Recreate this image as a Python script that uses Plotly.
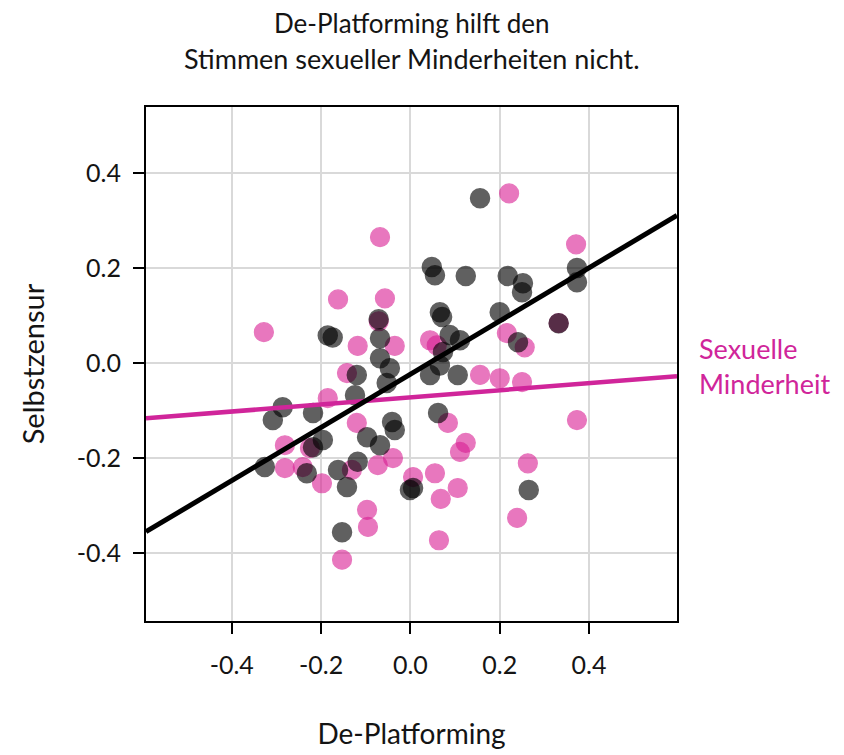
import plotly.graph_objects as go

# ---- data ----
black_x = [0.156, 0.048, 0.055, 0.124, 0.218, 0.252, 0.250, 0.373, 0.373, 0.066,
           0.071, 0.200, 0.332, 0.241, 0.088, 0.111, 0.073, 0.106, 0.044, 0.062,
           0.265, 0.006, -0.071, -0.068, -0.174, -0.185, -0.068, -0.046, -0.053, -0.120,
           -0.124, -0.218, -0.286, -0.308, -0.326, -0.218, -0.232, -0.196, -0.162, -0.142,
           -0.118, -0.097, -0.068, -0.041, -0.035, -0.001, -0.153, 0.066]
black_y = [0.347, 0.202, 0.185, 0.183, 0.183, 0.168, 0.149, 0.200, 0.170, 0.107,
           0.097, 0.107, 0.084, 0.044, 0.059, 0.048, 0.023, -0.025, -0.025, -0.105,
           -0.267, -0.263, 0.092, 0.052, 0.054, 0.058, 0.010, -0.011, -0.042, -0.025,
           -0.068, -0.105, -0.093, -0.120, -0.219, -0.177, -0.232, -0.162, -0.225, -0.261,
           -0.208, -0.156, -0.173, -0.124, -0.141, -0.267, -0.356, -0.005]

pink_x = [-0.328, -0.162, -0.068, -0.057, -0.118, -0.035, 0.221, 0.371, 0.216, 0.256,
          0.044, 0.156, 0.200, 0.250, 0.084, 0.124, 0.111, 0.373, 0.263, 0.055,
          0.106, 0.068, 0.239, 0.064, 0.006, -0.142, -0.185, -0.120, -0.039, -0.073,
          -0.198, -0.281, -0.281, -0.241, -0.097, -0.095, -0.153, -0.071, 0.332, -0.131,
          -0.225, 0.059]
pink_y = [0.065, 0.134, 0.265, 0.136, 0.036, 0.036, 0.357, 0.250, 0.063, 0.033,
          0.048, -0.025, -0.032, -0.040, -0.126, -0.168, -0.187, -0.120, -0.211, -0.232,
          -0.263, -0.286, -0.326, -0.373, -0.240, -0.021, -0.074, -0.126, -0.200, -0.215,
          -0.253, -0.173, -0.221, -0.219, -0.309, -0.345, -0.414, 0.088, 0.084, -0.225,
          -0.179, 0.037]

# fitted lines (slope, intercept)
black_fit = (0.560, -0.0235)
pink_fit = (0.0748, -0.0722)

x_range = [-0.592, 0.597]
y_range = [-0.543, 0.539]
tick_vals = [-0.4, -0.2, 0.0, 0.2, 0.4]
tick_text = ["-0.4", "-0.2", "0.0", "0.2", "0.4"]

title_lines = ["De-Platforming hilft den", "Stimmen sexueller Minderheiten nicht."]
group_label = "Sexuelle<br>Minderheit"

PINK = "#d91e93"
PINK_LINE = "#d0259a"
FONT = "Lato"
TXT = "#141414"

fig = go.Figure()

fig.add_trace(go.Scatter(
    x=pink_x, y=pink_y, mode="markers",
    marker=dict(size=19, color=PINK, opacity=0.6, line=dict(width=1.2, color=PINK)),
    showlegend=False, hoverinfo="skip"))
fig.add_trace(go.Scatter(
    x=black_x, y=black_y, mode="markers",
    marker=dict(size=19, color="black", opacity=0.62, line=dict(width=1.5, color="black")),
    showlegend=False, hoverinfo="skip"))

fig.add_trace(go.Scatter(
    x=x_range, y=[pink_fit[0] * v + pink_fit[1] for v in x_range], mode="lines",
    line=dict(color=PINK_LINE, width=4.5), showlegend=False, hoverinfo="skip"))
fig.add_trace(go.Scatter(
    x=x_range, y=[black_fit[0] * v + black_fit[1] for v in x_range], mode="lines",
    line=dict(color="black", width=5), showlegend=False, hoverinfo="skip"))

axis_common = dict(
    showgrid=True, gridcolor="#d9d9d9", gridwidth=1.5,
    zeroline=False, showline=True, linecolor="black", linewidth=2, mirror=True,
    ticks="outside", ticklen=11, tickwidth=1.5, tickcolor="black",
    tickvals=tick_vals, ticktext=tick_text, automargin=False,
    tickfont=dict(family=FONT, size=25, color=TXT),
)

fig.update_xaxes(range=x_range, **axis_common,
                 ticklabelstandoff=10,
                 title=dict(text="De-Platforming", font=dict(family=FONT, size=28, color=TXT), standoff=46))
fig.update_yaxes(range=y_range, **axis_common,
                 ticklabelstandoff=7,
                 title=dict(text="Selbstzensur", font=dict(family=FONT, size=29, color=TXT), standoff=24))

fig.update_layout(
    width=844, height=755,
    margin=dict(l=138, r=175, t=99, b=142),
    plot_bgcolor="white", paper_bgcolor="white",
    font=dict(family=FONT, color=TXT),
    annotations=[
        dict(text=title_lines[0], x=0.5, y=1, xref="paper", yref="paper",
             xanchor="center", yanchor="middle", yshift=84, showarrow=False,
             font=dict(family=FONT, size=26, color=TXT)),
        dict(text=title_lines[1], x=0.5, y=1, xref="paper", yref="paper",
             xanchor="center", yanchor="middle", yshift=49, showarrow=False,
             font=dict(family=FONT, size=27, color=TXT)),
        dict(text=group_label, x=1.0, y=pink_fit[0] * 0.5 + pink_fit[1],
             xref="paper", yref="y", xanchor="left", yanchor="middle", align="left",
             xshift=20, yshift=14, showarrow=False,
             font=dict(family=FONT, size=27, color=PINK_LINE)),
    ],
)

fig.write_html("out.html")
